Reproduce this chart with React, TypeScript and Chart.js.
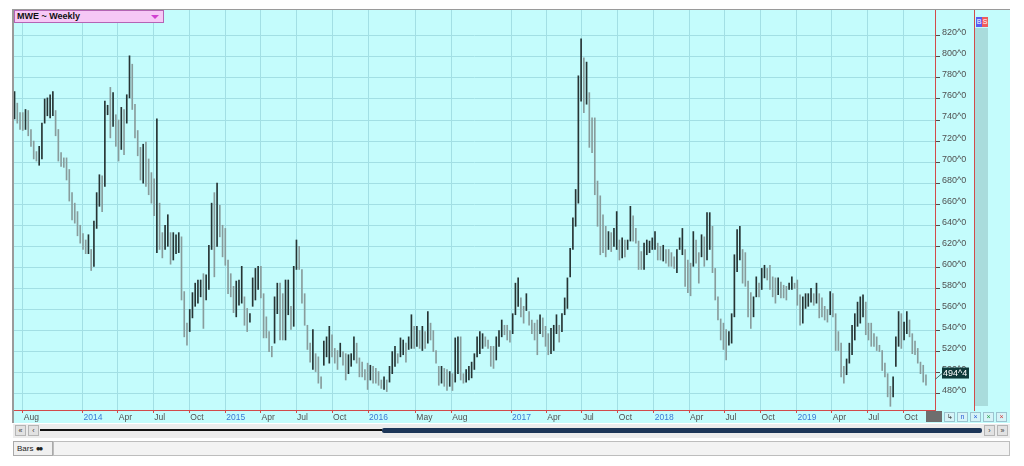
import React, { useEffect, useRef } from 'react';
import { Chart, registerables } from 'chart.js';
Chart.register(...registerables);

const title = 'MWE ~ Weekly';
const startDate = '2013-07-11';

const highsPart1 = [767,756,747,747,750,749,731,720,710,715,737,760,761,764,767,749,731,709,704,704,693,671,661,653,640,632,626,631,617,644,671,688,687,758,754,771,766,745,740,752,750,764,801,793,755,730,714,717,719,703,690,684,741,661,633,640,650,633,633,631,633,629,577,547,560,576,585,588];
const lowsPart1 = [741,737,731,730,731,725,715,703,701,697,703,737,744,742,744,725,701,696,695,683,663,645,642,630,623,617,613,613,597,601,637,658,653,677,745,723,734,715,701,712,707,737,761,750,723,706,683,680,677,669,661,649,614,617,609,617,620,603,607,613,614,569,534,526,539,552,563,566];

const highsPart2 = [588,594,593,621,661,671,680,659,640,637,607,594,582,587,588,601,572,561,556,590,599,601,601,575,553,539,525,572,585,585,575,588,588,563,601,626,620,598,575,545,528,541,518,515,496,530,534,544,536,523,521,528,520,518,517,518,534,528,514,510,503,509,507,506,504,501,493];
const lowsPart2 = [572,542,569,579,617,591,620,629,610,602,575,572,557,553,564,566,545,539,548,563,569,579,571,533,533,520,515,528,556,531,531,531,555,541,544,598,598,566,545,522,510,503,501,490,485,507,515,509,515,509,503,515,507,493,499,506,512,509,496,496,493,484,493,490,490,488,485];

const highsPart3 = [496,493,506,520,525,518,533,531,528,534,555,544,544,540,544,539,558,547,540,521,506,506,504,503,501,499,533,534,534,499,503,506,510,518,534,539,537,534,531,525,525,534,540,550,545,545,540,556,585,590,571,563,575,558,550,547,550,555,552,544,537,542,545,555,545,556,571,590];
const lowsPart3 = [484,482,491,499,506,509,515,517,510,522,523,523,525,523,521,523,528,531,520,509,488,490,487,483,487,483,491,499,493,490,491,493,495,503,515,518,523,525,523,506,504,512,525,534,536,531,529,537,555,563,553,547,559,545,537,531,517,537,534,525,517,518,521,537,529,539,555,561];

const highsPart4 = [618,647,674,782,817,799,795,766,742,742,682,668,650,639,634,633,637,653,626,628,626,626,658,649,637,625,615,623,626,625,628,634,623,620,621,617,617,614,610,617,628,637,617,607,604,634,626,614,631,629,652,652,639,599,572,551,547,541,539,556,612,636,639,617,614,587,576,572];
const lowsPart4 = [591,617,639,661,758,747,755,714,709,669,639,612,614,610,617,615,620,617,607,609,610,617,625,625,623,598,598,598,612,614,617,617,607,607,606,604,601,601,599,595,617,612,582,576,573,601,604,585,610,601,607,617,595,569,550,531,522,512,526,528,553,596,607,585,582,553,542,553];

const highsPart5 = [591,585,599,602,599,602,591,590,590,586,583,582,585,591,585,588,574,572,575,575,580,575,585,575,571,563,560,577,575,556,539,528,506,513,528,545,556,567,572,574,567,547,547,537,534,526,521,509,499,487,496,534,558,556,548,558,550,537,530,523,510,507,498];
const lowsPart5 = [572,572,579,590,588,579,572,566,574,571,571,569,579,579,580,564,545,547,561,563,567,564,566,552,553,550,548,555,553,521,521,496,490,498,509,517,531,544,547,553,536,531,525,525,521,520,502,496,477,468,477,506,525,523,531,537,534,518,517,509,499,491,488];

const tickDates = ['2013-08-01','2014-01-01','2014-04-01','2014-07-01','2014-10-01','2015-01-01','2015-04-01','2015-07-01','2015-10-01','2016-01-01','2016-05-01','2016-08-01','2017-01-01','2017-04-01','2017-07-01','2017-10-01','2018-01-01','2018-04-01','2018-07-01','2018-10-01','2019-01-01','2019-04-01','2019-07-01','2019-10-01'];
const tickLabels = ['Aug','2014','Apr','Jul','Oct','2015','Apr','Jul','Oct','2016','May','Aug','2017','Apr','Jul','Oct','2018','Apr','Jul','Oct','2019','Apr','Jul','Oct'];
const priceTicks = [480,500,520,540,560,580,600,620,640,660,680,700,720,740,760,780,800,820];
const lastPrice = 494.4;
const lastPriceLabel = '494^4';

const highs = [...highsPart1, ...highsPart2, ...highsPart3, ...highsPart4, ...highsPart5];
const lows = [...lowsPart1, ...lowsPart2, ...lowsPart3, ...lowsPart4, ...lowsPart5];

const CYAN = '#c4fcfc';
const GRID = '#a2dfe4';
const RED = '#d24a4a';
const DARK = '#263434';
const GRAY = '#889c9c';
const FONT = '"Liberation Sans", Arial, sans-serif';

const weekIndex = (d: string) => (Date.parse(d) - Date.parse(startDate)) / (7 * 86400000);

const priceTag = {
  id: 'priceTag',
  afterDraw(chart: any) {
    const { ctx } = chart;
    const x = chart.scales.x;
    const y = chart.scales.y;
    const py = y.getPixelForValue(lastPrice) - 5;
    const left = x.right + 7;
    ctx.save();
    ctx.strokeStyle = '#4a6a6a';
    ctx.lineWidth = 1;
    ctx.beginPath();
    ctx.moveTo(x.right, py + 6);
    ctx.lineTo(left, py);
    ctx.stroke();
    ctx.fillStyle = '#0f3a3a';
    ctx.fillRect(left, py - 6, 27, 11);
    ctx.fillStyle = '#ffffff';
    ctx.font = '9px ' + FONT;
    ctx.textBaseline = 'middle';
    ctx.textAlign = 'left';
    ctx.fillText(lastPriceLabel, left + 1, py);
    ctx.restore();
  },
};

function Btn({ left, top, w, h, text, color }: any) {
  return (
    <div style={{ position: 'absolute', left, top, width: w, height: h, boxSizing: 'border-box', background: '#e2e2e2', border: '1px solid #b5b5b5', fontSize: 7, lineHeight: (h - 2) + 'px', textAlign: 'center', color: color || '#333' }}>{text}</div>
  );
}

export default function App() {
  const ref = useRef<HTMLCanvasElement>(null);
  useEffect(() => {
    const canvas = ref.current;
    if (!canvas) return;
    const mids = highs.map((h, i) => (h + lows[i]) / 2);
    const colors = mids.map((m, i) => (i === 0 || m >= mids[i - 1] ? DARK : GRAY));
    const chart = new Chart(canvas, {
      type: 'bar',
      data: {
        datasets: [
          {
            data: highs.map((h, i) => ({ x: i, y: [lows[i], h] })) as any,
            backgroundColor: colors,
            borderWidth: 0,
            barThickness: 1,
            grouped: false,
          } as any,
        ],
      },
      options: {
        animation: false,
        responsive: false,
        maintainAspectRatio: false,
        layout: { padding: { left: 14, top: 10, right: 49, bottom: 44 } },
        plugins: { legend: { display: false }, tooltip: { enabled: false } },
        scales: {
          x: {
            type: 'linear',
            min: -0.2,
            max: 336.3,
            offset: false,
            grid: { color: GRID, offset: false, tickLength: 3, tickColor: RED, drawTicks: true },
            border: { color: RED, width: 1 },
            afterBuildTicks: (scale: any) => {
              scale.ticks = tickDates.map((d) => ({ value: weekIndex(d) }));
            },
            afterFit: (scale: any) => {
              scale.height = 12;
            },
            ticks: {
              autoSkip: false,
              maxRotation: 0,
              minRotation: 0,
              align: 'start',
              padding: 0,
              labelOffset: 1,
              font: { family: FONT, size: 8.5 },
              color: (ctx: any) => (/^\d{4}$/.test(tickLabels[ctx.index]) ? '#3a7ad6' : '#505050'),
              callback: (_v: any, i: number) => tickLabels[i] ?? '',
            },
          } as any,
          y: {
            position: 'right',
            min: 464.5,
            max: 844.5,
            grid: { color: GRID, tickLength: 5, tickColor: '#505050', drawTicks: true },
            border: { color: RED, width: 1 },
            afterBuildTicks: (scale: any) => {
              scale.ticks = priceTicks.map((v) => ({ value: v }));
            },
            afterFit: (scale: any) => {
              scale.width = 40;
            },
            ticks: {
              padding: 2,
              labelOffset: -3,
              font: { family: FONT, size: 9 },
              color: '#505050',
              callback: (v: any) => v + '^0',
            },
          } as any,
        },
      },
      plugins: [priceTag],
    });
    return () => chart.destroy();
  }, []);

  const smallBtns = [
    { t: '↳', c: '#444' },
    { t: 'n', c: '#2a5bd7' },
    { t: '×', c: '#2a5bd7' },
    { t: '×', c: '#2aa04a' },
    { t: '×', c: '#d03a3a' },
  ];

  return (
    <div style={{ position: 'fixed', left: 0, top: 0, width: 1024, height: 466, background: '#ffffff', overflow: 'hidden', fontFamily: FONT }}>
      <div style={{ position: 'absolute', left: 12, top: 9, width: 998, height: 414, background: CYAN, borderTop: '1px solid #9a9a9a', borderLeft: '2px solid #9a9a9a', boxSizing: 'border-box' }} />
      <div style={{ position: 'absolute', left: 975, top: 28, width: 13, height: 378, background: '#a9dcdc' }} />
      <div style={{ position: 'absolute', left: 974, top: 10, width: 1, height: 401, background: RED }} />
      <div style={{ position: 'absolute', left: 976, top: 17, width: 6, height: 10, background: '#5b5bef', color: '#fff', fontSize: 7, lineHeight: '10px', textAlign: 'center' }}>B</div>
      <div style={{ position: 'absolute', left: 982, top: 17, width: 6, height: 10, background: '#ef5b5b', color: '#fff', fontSize: 7, lineHeight: '10px', textAlign: 'center' }}>S</div>
      <canvas ref={ref} width={1024} height={466} style={{ position: 'absolute', left: 0, top: 0, width: 1024, height: 466 }} />
      <div style={{ position: 'absolute', left: 14, top: 10, width: 150, height: 13, boxSizing: 'border-box', background: '#f6c8f6', border: '1px solid #b464b4', fontSize: 9, fontWeight: 'bold', lineHeight: '11px', paddingLeft: 2, color: '#111' }}>
        {title}
        <div style={{ position: 'absolute', right: 4, top: 4, width: 0, height: 0, borderLeft: '4px solid transparent', borderRight: '4px solid transparent', borderTop: '4px solid #d040d0' }} />
      </div>
      <div style={{ position: 'absolute', left: 926, top: 411, width: 16, height: 11, background: '#6e6e6e' }} />
      {smallBtns.map((b, k) => (
        <div key={k} style={{ position: 'absolute', left: 944 + k * 13, top: 412, width: 11, height: 10, boxSizing: 'border-box', background: '#d6f4f8', border: '1px solid #9cc4d0', fontSize: 7, lineHeight: '8px', textAlign: 'center', color: b.c }}>{b.t}</div>
      ))}
      <div style={{ position: 'absolute', left: 13, top: 424, width: 997, height: 14, background: '#ececec' }} />
      <Btn left={15} top={425} w={11} h={11} text="«" />
      <Btn left={28} top={425} w={11} h={11} text="‹" />
      <div style={{ position: 'absolute', left: 40, top: 429, width: 342, height: 2, background: '#111' }} />
      <div style={{ position: 'absolute', left: 382, top: 428, width: 600, height: 5, background: '#1d3658', borderRadius: 2 }} />
      <Btn left={984} top={425} w={11} h={11} text="›" />
      <Btn left={997} top={425} w={11} h={11} text="»" />
      <div style={{ position: 'absolute', left: 13, top: 441, width: 40, height: 15, boxSizing: 'border-box', background: '#f0f0f0', border: '1px solid #aaaaaa', fontSize: 8, lineHeight: '13px', paddingLeft: 3, color: '#222' }}>
        Bars <span style={{ fontSize: 8, color: '#222', letterSpacing: -2 }}>●●</span>
      </div>
      <div style={{ position: 'absolute', left: 53, top: 441, width: 957, height: 15, boxSizing: 'border-box', background: '#f3f3f3', border: '1px solid #bdbdbd' }} />
    </div>
  );
}
